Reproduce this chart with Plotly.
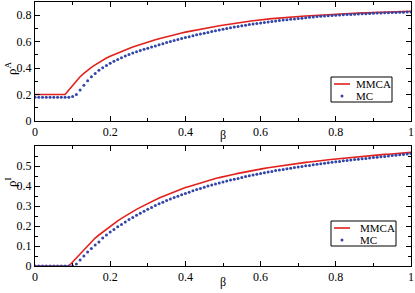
import plotly.graph_objects as go

beta = [round(i * 0.01, 2) for i in range(101)]

rhoA_mmca = [0.20, 0.20, 0.20, 0.20, 0.20, 0.20, 0.20, 0.20, 0.20, 0.235,
             0.27, 0.305, 0.335, 0.36, 0.385, 0.405, 0.425, 0.443, 0.46, 0.476,
             0.49, 0.503, 0.515, 0.527, 0.538, 0.549, 0.559, 0.569, 0.578, 0.587,
             0.596, 0.605, 0.614, 0.622, 0.63, 0.638, 0.645, 0.652, 0.659, 0.666,
             0.672, 0.678, 0.684, 0.69, 0.695, 0.70, 0.705, 0.71, 0.715, 0.72,
             0.725, 0.73, 0.735, 0.739, 0.743, 0.747, 0.751, 0.755, 0.758, 0.762,
             0.765, 0.768, 0.771, 0.774, 0.776, 0.779, 0.781, 0.784, 0.786, 0.788,
             0.790, 0.792, 0.794, 0.796, 0.798, 0.800, 0.802, 0.803, 0.805, 0.806,
             0.808, 0.809, 0.811, 0.812, 0.813, 0.815, 0.816, 0.817, 0.818, 0.819,
             0.820, 0.821, 0.822, 0.823, 0.824, 0.825, 0.826, 0.827, 0.828, 0.829,
             0.830]

rhoA_mc = [0.18, 0.18, 0.18, 0.18, 0.18, 0.18, 0.18, 0.18, 0.18, 0.18,
           0.185, 0.20, 0.235, 0.27, 0.305, 0.335, 0.36, 0.383, 0.403, 0.42,
           0.437, 0.452, 0.466, 0.479, 0.491, 0.503, 0.514, 0.524, 0.533, 0.542,
           0.55, 0.559, 0.568, 0.577, 0.585, 0.593, 0.601, 0.609, 0.617, 0.624,
           0.631, 0.638, 0.645, 0.652, 0.658, 0.664, 0.67, 0.676, 0.682, 0.688,
           0.694, 0.70, 0.705, 0.71, 0.715, 0.72, 0.725, 0.729, 0.733, 0.737,
           0.741, 0.745, 0.749, 0.753, 0.757, 0.76, 0.763, 0.766, 0.769, 0.772,
           0.775, 0.778, 0.781, 0.784, 0.787, 0.79, 0.792, 0.794, 0.796, 0.798,
           0.80, 0.802, 0.803, 0.805, 0.806, 0.808, 0.809, 0.811, 0.812, 0.813,
           0.815, 0.816, 0.817, 0.818, 0.819, 0.82, 0.821, 0.822, 0.823, 0.824,
           0.825]

rhoI_mmca = [0.0, 0.0, 0.0, 0.0, 0.0, 0.0, 0.0, 0.0, 0.0, 0.0,
             0.02, 0.04, 0.065, 0.085, 0.105, 0.12, 0.14, 0.155, 0.17, 0.185,
             0.20, 0.213, 0.226, 0.238, 0.25, 0.262, 0.273, 0.283, 0.293, 0.303,
             0.313, 0.322, 0.331, 0.34, 0.348, 0.356, 0.364, 0.371, 0.378, 0.385,
             0.392, 0.398, 0.404, 0.41, 0.416, 0.422, 0.427, 0.432, 0.437, 0.442,
             0.447, 0.451, 0.455, 0.459, 0.463, 0.467, 0.471, 0.475, 0.478, 0.482,
             0.485, 0.488, 0.491, 0.494, 0.497, 0.50, 0.503, 0.506, 0.508, 0.511,
             0.513, 0.516, 0.518, 0.52, 0.523, 0.525, 0.527, 0.529, 0.531, 0.533,
             0.535, 0.537, 0.539, 0.541, 0.543, 0.545, 0.546, 0.548, 0.55, 0.551,
             0.553, 0.555, 0.556, 0.558, 0.559, 0.561, 0.562, 0.564, 0.565, 0.566,
             0.568]

rhoI_mc = [0.0, 0.0, 0.0, 0.0, 0.0, 0.0, 0.0, 0.0, 0.0, 0.0,
           0.0, 0.01, 0.03, 0.05, 0.07, 0.088, 0.105, 0.12, 0.14, 0.155,
           0.17, 0.183, 0.196, 0.208, 0.22, 0.232, 0.243, 0.254, 0.264, 0.274,
           0.284, 0.293, 0.302, 0.311, 0.319, 0.327, 0.335, 0.342, 0.349, 0.356,
           0.363, 0.369, 0.376, 0.382, 0.388, 0.394, 0.40, 0.405, 0.41, 0.415,
           0.42, 0.425, 0.43, 0.434, 0.438, 0.443, 0.447, 0.451, 0.455, 0.459,
           0.463, 0.466, 0.47, 0.473, 0.477, 0.48, 0.483, 0.486, 0.489, 0.492,
           0.495, 0.498, 0.501, 0.503, 0.506, 0.509, 0.511, 0.514, 0.516, 0.519,
           0.521, 0.523, 0.526, 0.528, 0.53, 0.532, 0.534, 0.536, 0.538, 0.54,
           0.542, 0.544, 0.546, 0.548, 0.55, 0.552, 0.554, 0.556, 0.558, 0.56,
           0.562]

series_names = ["MMCA", "MC"]

RED = "#e3211c"
BLUE = "#3346a8"
FONT = "Liberation Serif"

W, H = 415, 293
ML, MR, MT, MB = 35, 4, 2, 27
PW, PH = W - ML - MR, H - MT - MB


def px(x):
    return (x - ML) / PW


def py(y):
    return (H - MB - y) / PH


fig = go.Figure()
fig.add_trace(go.Scatter(x=beta, y=rhoA_mmca, mode="lines", name=series_names[0],
                         line=dict(color=RED, width=1.6), xaxis="x", yaxis="y"))
fig.add_trace(go.Scatter(x=beta, y=rhoA_mc, mode="markers", name=series_names[1],
                         marker=dict(color=BLUE, size=3), xaxis="x", yaxis="y"))
fig.add_trace(go.Scatter(x=beta, y=rhoI_mmca, mode="lines", name=series_names[0],
                         line=dict(color=RED, width=1.6), xaxis="x2", yaxis="y2"))
fig.add_trace(go.Scatter(x=beta, y=rhoI_mc, mode="markers", name=series_names[1],
                         marker=dict(color=BLUE, size=3), xaxis="x2", yaxis="y2"))

axis_common = dict(showline=True, linecolor="black", linewidth=1, mirror="ticks",
                   ticks="inside", ticklen=5, tickcolor="black", showgrid=False,
                   zeroline=False, automargin=False,
                   tickfont=dict(family=FONT, size=12, color="black"))

fig.update_layout(
    width=W, height=H,
    margin=dict(l=ML, r=MR, t=MT, b=MB),
    paper_bgcolor="white", plot_bgcolor="white",
    font=dict(family=FONT, size=12, color="black"),
    showlegend=False,
    xaxis=dict(domain=[0, 1], range=[0, 1], dtick=0.2, anchor="y",
               minor=dict(dtick=0.1, ticks="inside", ticklen=3, tickcolor="black"),
               **axis_common),
    yaxis=dict(domain=[py(121), 1], range=[0, 0.9], tickvals=[0, 0.2, 0.4, 0.6, 0.8],
               anchor="x",
               minor=dict(dtick=0.1, ticks="inside", ticklen=3, tickcolor="black"),
               **axis_common),
    xaxis2=dict(domain=[0, 1], range=[0, 1], dtick=0.2, anchor="y2",
                minor=dict(dtick=0.1, ticks="inside", ticklen=3, tickcolor="black"),
                **axis_common),
    yaxis2=dict(domain=[0, py(146)], range=[0, 0.6], tickvals=[0, 0.1, 0.2, 0.3, 0.4, 0.5],
                anchor="x2",
                minor=dict(dtick=0.05, ticks="inside", ticklen=3, tickcolor="black"),
                **axis_common),
)

annos = [
    dict(text="β", x=0.5, y=py(135), xref="paper", yref="paper",
         xanchor="center", yanchor="middle",
         showarrow=False, font=dict(family=FONT, size=12)),
    dict(text="β", x=0.5, y=py(282), xref="paper", yref="paper",
         xanchor="center", yanchor="middle",
         showarrow=False, font=dict(family=FONT, size=12)),
    dict(text="ρ<sup>A</sup>", x=px(11), y=py(68), xref="paper", yref="paper",
         xanchor="center", yanchor="middle",
         showarrow=False, textangle=-90, font=dict(family=FONT, size=13)),
    dict(text="ρ<sup>I</sup>", x=px(11), y=py(182), xref="paper", yref="paper",
         xanchor="center", yanchor="middle",
         showarrow=False, textangle=-90, font=dict(family=FONT, size=13)),
]

shapes = []
# hand-made legend boxes (top and bottom panels)
for (bx0, by0, bx1, by1) in [(331, 77, 392, 102), (331, 221, 396, 246)]:
    shapes.append(dict(type="rect", xref="paper", yref="paper",
                       x0=px(bx0), x1=px(bx1), y0=py(by1), y1=py(by0),
                       line=dict(color="black", width=1), fillcolor="white"))
    ly = by0 + 7
    dy = by0 + 19
    tx = bx0 + 23 if bx1 - bx0 < 63 else bx0 + 27
    lx0, lx1 = bx0 + 3, bx0 + 19
    shapes.append(dict(type="line", xref="paper", yref="paper",
                       x0=px(lx0), x1=px(lx1), y0=py(ly), y1=py(ly),
                       line=dict(color=RED, width=1.6)))
    cx = (lx0 + lx1) / 2
    shapes.append(dict(type="circle", xref="paper", yref="paper",
                       x0=px(cx - 1.5), x1=px(cx + 1.5), y0=py(dy + 1.5), y1=py(dy - 1.5),
                       line=dict(width=0), fillcolor=BLUE))
    annos.append(dict(text=series_names[0], x=px(tx), y=py(ly), xref="paper", yref="paper",
                      xanchor="left", yanchor="middle", showarrow=False,
                      font=dict(family=FONT, size=11, color="black")))
    annos.append(dict(text=series_names[1], x=px(tx), y=py(dy), xref="paper", yref="paper",
                      xanchor="left", yanchor="middle", showarrow=False,
                      font=dict(family=FONT, size=11, color="black")))

fig.update_layout(annotations=annos, shapes=shapes)

fig.write_html("out.html", config={"displayModeBar": False},
               post_script="document.body.style.margin='0';document.body.style.padding='0';")
